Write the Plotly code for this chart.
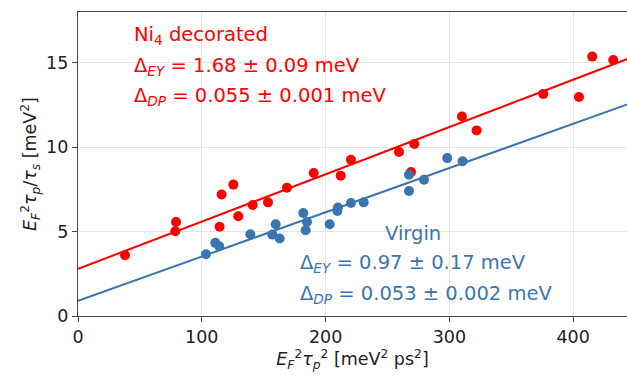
import plotly.graph_objects as go

# Ni4 decorated data
red_x = [38.0, 79.2, 78.6, 116.0, 125.5, 114.4, 129.5, 141.1, 153.5, 168.8, 190.4, 212.2, 220.5,
         259.3, 271.7, 269.0, 310.2, 322.0, 375.9, 404.7, 415.4, 432.4]
red_y = [3.60, 5.57, 5.02, 7.19, 7.78, 5.28, 5.91, 6.57, 6.73, 7.60, 8.47, 8.31, 9.25,
         9.71, 10.18, 8.52, 11.81, 10.99, 13.15, 12.97, 15.36, 15.16]

# Virgin data
blue_x = [103.4, 110.9, 114.1, 139.2, 157.0, 159.7, 162.9, 182.0, 185.0, 183.9, 203.3, 209.5,
          210.0, 220.5, 230.8, 267.4, 267.4, 279.5, 298.3, 310.7]
blue_y = [3.66, 4.33, 4.13, 4.84, 4.82, 5.43, 4.59, 6.10, 5.57, 5.08, 5.43, 6.22,
          6.42, 6.69, 6.73, 8.37, 7.40, 8.07, 9.35, 9.16]

# Linear fits (intercept, slope)
red_fit = (2.79, 0.0280)
blue_fit = (0.90, 0.0262)
fit_x = [0, 450]

RED = "#ff0000"
BLUE = "#3a75b0"

fig = go.Figure()
fig.add_trace(go.Scatter(x=fit_x, y=[red_fit[0] + red_fit[1] * v for v in fit_x],
                         mode="lines", line=dict(color=RED, width=2), showlegend=False))
fig.add_trace(go.Scatter(x=red_x, y=red_y, mode="markers",
                         marker=dict(color=RED, size=10), showlegend=False))
fig.add_trace(go.Scatter(x=fit_x, y=[blue_fit[0] + blue_fit[1] * v for v in fit_x],
                         mode="lines", line=dict(color=BLUE, width=2), showlegend=False))
fig.add_trace(go.Scatter(x=blue_x, y=blue_y, mode="markers",
                         marker=dict(color=BLUE, size=10), showlegend=False))

font = "DejaVu Sans"
ann = [
    (43.5, 16.6, "Ni<sub>4</sub> decorated", RED),
    (43.5, 14.78, "Δ<sub><i>EY</i></sub> = 1.68 ± 0.09 meV", RED),
    (43.5, 12.99, "Δ<sub><i>DP</i></sub> = 0.055 ± 0.001 meV", RED),
    (246.0, 4.90, "Virgin", BLUE),
    (177.5, 3.13, "Δ<sub><i>EY</i></sub> = 0.97 ± 0.17 meV", BLUE),
    (177.5, 1.30, "Δ<sub><i>DP</i></sub> = 0.053 ± 0.002 meV", BLUE),
]
for x, y, t, c in ann:
    fig.add_annotation(x=x, y=y, xref="x", yref="y", text=t, showarrow=False,
                       xanchor="left", yanchor="middle",
                       font=dict(family=font, size=19.5, color=c))

axis_common = dict(showgrid=True, gridcolor="#e5e5e5", gridwidth=1, zeroline=False,
                   showline=True, linecolor="#444444", linewidth=1.3,
                   ticks="outside", ticklen=5, tickcolor="#444444",
                   tickfont=dict(family=font, size=17.5, color="#222222"))

fig.update_layout(
    width=627, height=377,
    margin=dict(l=78, r=0, t=12, b=61),
    paper_bgcolor="white", plot_bgcolor="white",
    xaxis=dict(range=[0, 443.5], tickvals=[0, 100, 200, 300, 400], mirror=True,
               title=dict(text="<i>E</i><sub><i>F</i></sub><sup>2</sup><i>τ</i><sub><i>p</i></sub><sup>2</sup> [meV<sup>2</sup> ps<sup>2</sup>]",
                          font=dict(family=font, size=17.5, color="#222222"), standoff=4),
               **axis_common),
    yaxis=dict(range=[0, 18], tickvals=[0, 5, 10, 15],
               title=dict(text="<i>E</i><sub><i>F</i></sub><sup>2</sup><i>τ</i><sub><i>p</i></sub>/<i>τ</i><sub><i>s</i></sub> [meV<sup>2</sup>]",
                          font=dict(family=font, size=17.5, color="#222222"), standoff=4),
               **axis_common),
)

fig.write_html("out.html")
